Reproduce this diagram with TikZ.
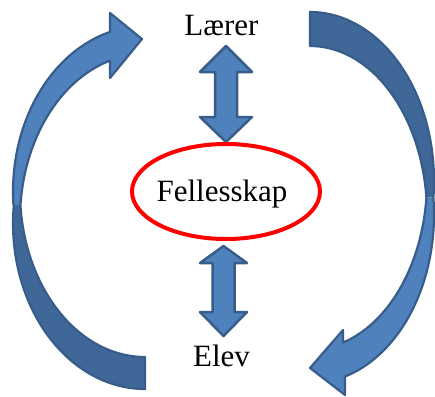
\documentclass[tikz,border=0pt]{standalone}
\usepackage{fontspec}
\setmainfont{Liberation Serif}
\usetikzlibrary{shapes.geometric}
\definecolor{afill}{HTML}{4F81BD}
\definecolor{adark}{HTML}{3F6797}
\definecolor{aline}{HTML}{385D8A}
\begin{document}
\begin{tikzpicture}[x=1pt,y=-1pt,
  lbl/.style={font=\fontsize{31}{31}\selectfont, inner sep=0pt, anchor=base},
  front/.style={fill=afill, draw=aline, line width=2.5pt, line join=round},
  frontfill/.style={fill=afill},
  backfill/.style={fill=adark},
  outline/.style={draw=aline, line width=2.2pt, line join=round},
  ring/.style={draw=red, line width=4pt, ellipse, inner sep=0pt, minimum width=188pt, minimum height=95pt}]
\useasboundingbox (0,0) rectangle (435,396);
% left curved arrow (Elev -> Laerer)
\path[backfill] plot[domain=90:186.42, samples=60] ({145+132*cos(\x)},{223.5+165.5*sin(\x)})
  -- plot[domain=175.32:90, samples=60] ({145+125*cos(\x)},{191.5+165.5*sin(\x)}) -- cycle;
\path[frontfill] plot[domain=175.32:254.63, samples=60] ({145+132*cos(\x)},{191.5+165.5*sin(\x)})
  -- (110,13) -- (142,39) -- (110,78)
  -- plot[domain=253.74:185.03, samples=60] ({145+125*cos(\x)},{219.5+165.5*sin(\x)}) -- cycle;
\path[outline] plot[domain=90:186.42, samples=60] ({145+132*cos(\x)},{223.5+165.5*sin(\x)})
  -- plot[domain=175.32:254.63, samples=60] ({145+132*cos(\x)},{191.5+165.5*sin(\x)})
  -- (110,13) -- (142,39) -- (110,78)
  -- plot[domain=253.74:185.03, samples=60] ({145+125*cos(\x)},{219.5+165.5*sin(\x)})
  -- plot[domain=175.32:90, samples=60] ({145+125*cos(\x)},{191.5+165.5*sin(\x)}) -- cycle;
% right curved arrow (Laerer -> Elev)
\path[backfill] plot[domain=-90:5.78, samples=60] ({310+124*cos(\x)},{180.7+168.7*sin(\x)})
  -- plot[domain=-5.78:-90, samples=60] ({310+117*cos(\x)},{214.7+168.7*sin(\x)}) -- cycle;
\path[frontfill] plot[domain=-5.78:73.6, samples=60] ({310+124*cos(\x)},{214.7+168.7*sin(\x)})
  -- (345,395) -- (310,368) -- (343,330)
  -- plot[domain=73.6:5.78, samples=60] ({310+117*cos(\x)},{180.7+168.7*sin(\x)}) -- cycle;
\path[outline] plot[domain=-90:5.78, samples=60] ({310+124*cos(\x)},{180.7+168.7*sin(\x)})
  -- plot[domain=-5.78:73.6, samples=60] ({310+124*cos(\x)},{214.7+168.7*sin(\x)})
  -- (345,395) -- (310,368) -- (343,330)
  -- plot[domain=73.6:5.78, samples=60] ({310+117*cos(\x)},{180.7+168.7*sin(\x)})
  -- plot[domain=-5.78:-90, samples=60] ({310+117*cos(\x)},{214.7+168.7*sin(\x)}) -- cycle;
% labels
\node[lbl] (laerer) at (221.5,36) {Lærer};
\node[lbl] (elev) at (221.5,366.5) {Elev};
\node[lbl] (fell) at (222,201) {Fellesskap};
% double arrows
\path[front] (226,46) -- (252,72) -- (237,72) -- (237,117) -- (252,117) -- (226,142)
  -- (200,117) -- (215,117) -- (215,72) -- (200,72) -- cycle;
\path[front] (223.5,246) -- (247,263) -- (234.5,263) -- (234.5,312) -- (247,312) -- (223.5,336)
  -- (200,312) -- (212.5,312) -- (212.5,263) -- (200,263) -- cycle;
\node[ring] (ring) at (226,191.5) {};
\end{tikzpicture}
\end{document}
